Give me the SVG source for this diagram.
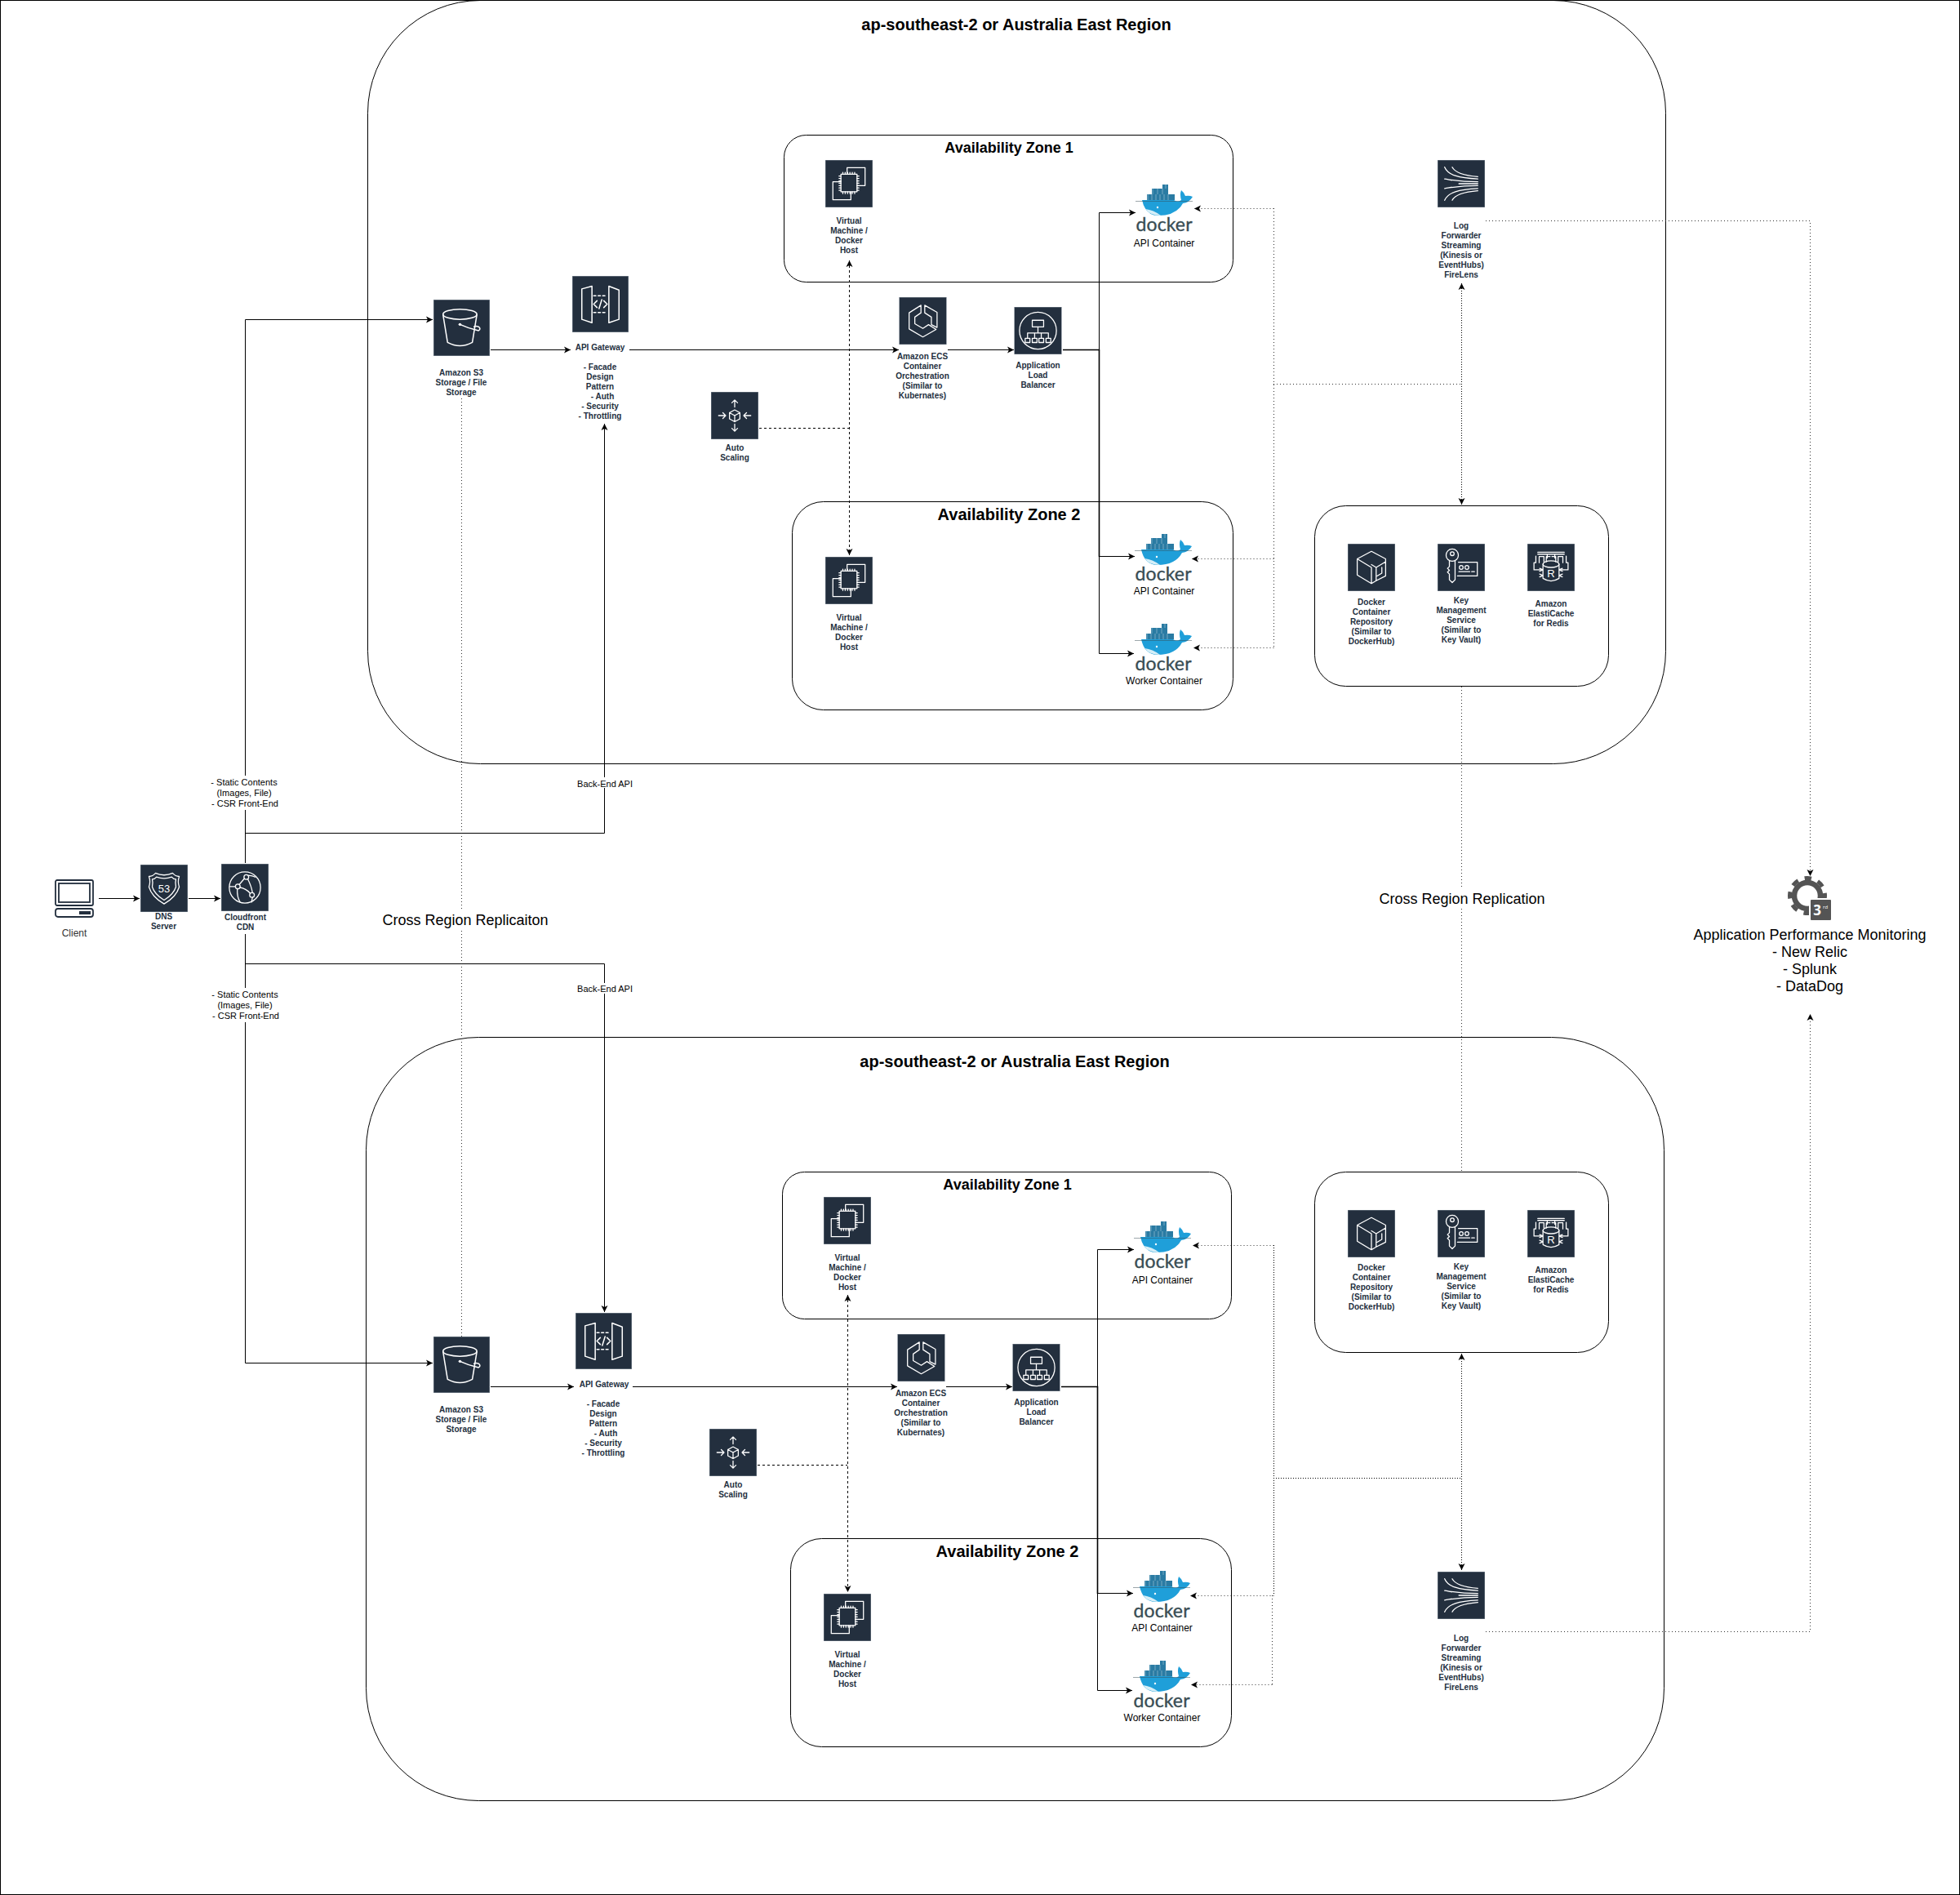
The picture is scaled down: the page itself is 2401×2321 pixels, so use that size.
<svg xmlns="http://www.w3.org/2000/svg" width="2401" height="2321" viewBox="0 0 2401 2321">
<style>
text{font-family:"Liberation Sans",Arial,sans-serif}
.lb{font-size:10px;font-weight:700;fill:#232F3E;text-anchor:middle}
.ct{font-size:12px;fill:#000;text-anchor:middle}
.el{font-size:11px;fill:#000;text-anchor:middle}
.big{font-size:18px;fill:#000;text-anchor:middle}
.rt{font-size:20px;font-weight:700;fill:#000;text-anchor:middle}
.az1{font-size:18px;font-weight:700;fill:#000;text-anchor:middle}
.az2{font-size:20px;font-weight:700;fill:#000;text-anchor:middle}
.dk{font-family:Lato,"Liberation Sans",sans-serif;font-size:23px;fill:#394D54;stroke:#394D54;stroke-width:.35;text-anchor:middle}
.box{fill:none;stroke:#000;stroke-width:1}
.c{fill:none;stroke:#000;stroke-width:1}
.th{fill:none;stroke:#000;stroke-width:1.6}
.ca{fill:none;stroke:#000;stroke-width:1;marker-end:url(#ah)}
.da{fill:none;stroke:#000;stroke-width:1;stroke-dasharray:3 3;marker-start:url(#ahs);marker-end:url(#ah)}
.dn{fill:none;stroke:#000;stroke-width:1;stroke-dasharray:3 3}
.dt{fill:none;stroke:#333;stroke-width:1;stroke-dasharray:1 3}
.dd{fill:none;stroke:#000;stroke-width:1;stroke-dasharray:1 2}
.dta{fill:none;stroke:#333;stroke-width:1;stroke-dasharray:1 3;marker-end:url(#ah)}
.db{fill:none;stroke:#000;stroke-width:1;stroke-dasharray:1 2;marker-start:url(#ahs);marker-end:url(#ah)}
.wl{fill:none;stroke:#fff;stroke-width:2.200;stroke-linejoin:round;stroke-linecap:round}
.wt{fill:#fff;text-anchor:middle}
</style>
<defs>
<marker id="ah" markerUnits="userSpaceOnUse" markerWidth="10" markerHeight="10" refX="8" refY="4.5" orient="auto"><path d="M8,4.5 L0,0.5 L2,4.5 L0,8.5 Z" fill="#000"/></marker>
<marker id="ahs" markerUnits="userSpaceOnUse" markerWidth="10" markerHeight="10" refX="0" refY="4.5" orient="auto"><path d="M0,4.5 L8,0.5 L6,4.5 L8,8.5 Z" fill="#000"/></marker>
<rect id="ibg" width="100" height="100" fill="#232F3E" stroke="#7f8a96" stroke-width="1.6"/>
<symbol id="i-vm" viewBox="0 0 100 100"><use href="#ibg"/><path class="wl" d="M46,28 V16 H84 V54 H67 M33,46 H16 V84 H54 V68"/><rect class="wl" x="33" y="30" width="34" height="37"/><path class="wl" stroke-width="1.4" d="M37,30v-4M42,30v-4M47,30v-4M52,30v-4M57,30v-4M62,30v-4M37,67v4M42,67v4M47,67v4M52,67v4M57,67v4M62,67v4M33,34h-4M33,39h-4M33,44h-4M33,49h-4M33,54h-4M33,59h-4M33,64h-4M67,34h4M67,39h4M67,44h4M67,49h4M67,54h4M67,59h4M67,64h4"/></symbol>
<symbol id="i-s3" viewBox="0 0 100 100"><use href="#ibg"/><ellipse class="wl" cx="47" cy="26" rx="30" ry="9"/><path class="wl" d="M17,27 L25,76 Q47,88 69,76 L77,27"/><path class="wl" d="M47,44 Q62,51 80,55 Q85,52 80,48 Q75,46 72,48"/><circle cx="47" cy="44" r="2.5" fill="#fff"/></symbol>
<symbol id="i-api" viewBox="0 0 100 100"><use href="#ibg"/><path class="wl" d="M35,18 L17,23 V77 L35,83 Z M65,18 L83,25 V77 L65,83 Z"/><path class="wl" stroke-dasharray="4 4" d="M38,35 H62 M38,65 H62"/><path class="wl" d="M44,44 L38,50 L44,56 M56,44 L62,50 L56,56 M52.500,42 L47.500,58"/></symbol>
<symbol id="i-as" viewBox="0 0 100 100"><use href="#ibg"/><path class="wl" d="M50,38 L61,44 V57 L50,63 L39,57 V44 Z M39,44 L50,50 L61,44 M50,50 V63"/><path class="wl" d="M50,32 V17 M44,23 L50,17 L56,23 M50,68 V83 M44,77 L50,83 L56,77 M31,50 H16 M25,44 L31,50 L25,56 M69,50 H84 M75,44 L69,50 L75,56"/></symbol>
<symbol id="i-ecs" viewBox="0 0 100 100"><use href="#ibg"/><path class="wl" d="M46,17 L21,33 V67 L50,84 L78,68 L62,58 L50,66 L33,56 V42 L46,33 Z M54,17 L80,32 V64 L68,58 V42 L54,33 Z"/></symbol>
<symbol id="i-alb" viewBox="0 0 100 100"><use href="#ibg"/><circle class="wl" cx="50" cy="50" r="39"/><rect class="wl" x="38" y="28" width="24" height="14"/><path class="wl" d="M50,42 V55 M28,66 V55 H72 V66 M43,55 V66 M57,55 V66"/><rect class="wl" x="23" y="66" width="10" height="9"/><rect class="wl" x="38" y="66" width="10" height="9"/><rect class="wl" x="52" y="66" width="10" height="9"/><rect class="wl" x="67" y="66" width="10" height="9"/></symbol>
<symbol id="i-r53" viewBox="0 0 100 100"><use href="#ibg"/><path class="wl" d="M32,18 Q26,25 18,25 Q22,36 18,47 Q24,68 50,83 Q76,68 82,47 Q78,36 82,25 Q74,25 68,18 Q50,26 32,18Z"/><path class="wl" d="M34,26 Q30,31 25,31 Q27,38 25,47 Q30,63 50,75 Q70,63 75,47 Q73,38 75,31 Q70,31 66,26 Q50,32 34,26Z"/></symbol>
<symbol id="i-cdn" viewBox="0 0 100 100"><use href="#ibg"/><circle class="wl" cx="50" cy="50" r="33"/><circle class="wl" cx="53" cy="28" r="5"/><circle class="wl" cx="35" cy="48" r="5"/><circle class="wl" cx="65" cy="66" r="5"/><path class="wl" d="M49,31 L38,44 M40,50 Q52,52 61,62 M30,48 H18 M34,53 Q33,70 40,81 M56,32 Q64,48 66,61 M57,25 Q64,24 72,28 M66,71 L64,81"/></symbol>
<symbol id="i-kin" viewBox="0 0 100 100"><use href="#ibg"/><path class="wl" stroke-width="1.700" d="M15,15 C22,32 45,38 85,40 M31,15 C38,28 60,33 85,35 M15,40 C30,42 45,46 85,46 M15,60 C30,58 45,54 85,54 M45,50 H85 M15,85 C22,68 45,62 85,60 M31,85 C38,72 60,67 85,65"/></symbol>
<symbol id="i-ecr" viewBox="0 0 100 100"><use href="#ibg"/><path class="wl" d="M50,16 L20,32 V66 L50,84 L60,78 V50 L80,38 V32 Z M20,32 L50,50 V84 M60,50 L50,44 M60,78 L80,68 V38 M72,50 V62 L62,68"/></symbol>
<symbol id="i-kms" viewBox="0 0 100 100"><use href="#ibg"/><circle class="wl" cx="31" cy="24" r="13"/><circle class="wl" cx="31" cy="21" r="4"/><path class="wl" d="M25,36 V48 L21,52 L25,56 L21,60 L25,64 V76 L31,82 L37,76 V36 M44,39 H84 V68 H42"/><circle class="wl" cx="50" cy="50" r="4" stroke-width="1.500"/><circle class="wl" cx="62" cy="50" r="4" stroke-width="1.500"/><path class="wl" d="M45,59 H68 M72,59 H78"/></symbol>
<symbol id="i-ec" viewBox="0 0 100 100"><use href="#ibg"/><path class="wl" stroke-width="1.600" d="M22,18 H78 M22,22 H78 M18,26 V40 H14 V55 H30 M82,26 V40 H86 V55 H70 M25,40 V27 H35 V38 M42,30 V22 M58,30 V22 M40,38 V27 H48 M52,27 H60 V38 M65,38 V27 H75 V40"/><ellipse class="wl" cx="50" cy="43" rx="17" ry="7"/><path class="wl" d="M33,43 V73 Q50,84 67,73 V43 M26,52 L33,55 L26,58 M26,64 L33,67 L26,70 M74,52 L67,55 L74,58 M74,64 L67,67 L74,70"/></symbol>
<symbol id="i-pc" viewBox="0 0 48 47"><g fill="none" stroke="#232F3E" stroke-width="1.800"><rect x="1" y="1" width="46" height="31" rx="2"/><rect x="5" y="5" width="38" height="23"/><rect x="1" y="36" width="46" height="10" rx="3"/></g><rect x="30" y="39" width="14" height="4" fill="#232F3E"/></symbol>
<symbol id="i-dk" viewBox="0 0 70 40"><path d="M33,0h7v5h-7z M20,5h20v7H20z M14,12h34v7H14z" fill="#2A7BA3"/><path d="M15,12v7M20,12v7M25,12v7M30,12v7M35,12v7M40,12v7M21,5v7M27,5v7M33,5v7M37,0v5" stroke="#fff" stroke-width=".6" opacity=".6"/><path d="M8,19 H47 Q52,22 56,19 Q54,12 56,7 Q60,10 61,14 Q66,13 70,15 Q66,22 58,23 Q50,38 28,38 Q12,38 8,19Z" fill="#1F9FD9"/><path d="M12,30 Q22,31 31,38 Q18,38 12,30Z" fill="#D5EEF7"/><circle cx="27" cy="28" r="1.200" fill="#fff"/><path d="M0,20.500 H70" stroke="#394D54" stroke-width=".7" opacity=".7"/></symbol>
</defs>
<rect x="0.500" y="0.500" width="2400" height="2320" fill="#fff" stroke="#000"/>

<g id="regions">
<rect id="region-a" class="box" x="450.500" y="0.500" width="1590" height="935" rx="138"/>
<text class="rt" x="1245" y="37">ap-southeast-2 or Australia East Region</text>
<rect id="region-b" class="box" x="448.500" y="1270.500" width="1590" height="935" rx="138"/>
<text class="rt" x="1243" y="1307">ap-southeast-2 or Australia East Region</text>
</g>

<g id="connectors">
<path class="dt" d="M565.500,488 V1637"/>
<path class="dt" d="M1790.500,841 V1435"/>
<path class="ca" d="M121,1100.500 H171"/>
<path class="ca" d="M231,1100.500 H270"/>
<path class="ca" d="M300.500,1057 V391.500 H530"/>
<path class="ca" d="M300.500,1020.500 H740.500 V519"/>
<path class="ca" d="M300.500,1144 V1669.500 H530"/>
<path class="ca" d="M300.500,1180.500 H740.500 V1607"/>
<path class="ca" d="M601,428.500 H699"/>
<path class="ca" d="M771,428.500 H1101"/>
<path class="ca" d="M1161,428.500 H1242"/>
<path class="th" d="M1302,428.500 H1346.500 V682"/>
<path class="ca" d="M1346.500,428 V260.500 H1391"/>
<path class="ca" d="M1346.500,428 V681.500 H1390"/>
<path class="ca" d="M1346.500,428 V800.500 H1389"/>
<path class="da" d="M1040.500,319 V680"/>
<path class="dn" d="M930,524.500 H1040"/>
<path class="dta" d="M1560.500,255.500 H1463"/>
<path class="dta" d="M1560.500,684.500 H1460"/>
<path class="dta" d="M1560.500,793.500 H1462"/>
<path class="dt" d="M1560.500,255 V794"/>
<path class="dt" d="M1560,470.500 H1790"/>
<path class="db" d="M1790.500,347 V618"/>
<path class="dta" d="M1820,270.500 H2217.500 V1073"/>
<path class="ca" d="M601,1698.500 H703"/>
<path class="ca" d="M775,1698.500 H1099"/>
<path class="ca" d="M1159,1698.500 H1240"/>
<path class="th" d="M1300,1698.500 H1344.500 V1952"/>
<path class="ca" d="M1344.500,1698 V1530.500 H1389"/>
<path class="ca" d="M1344.500,1698 V1951.500 H1388"/>
<path class="ca" d="M1344.500,1698 V2070.500 H1387"/>
<path class="da" d="M1038.500,1586 V1950"/>
<path class="dn" d="M928,1794.500 H1038"/>
<path class="dta" d="M1560.500,1525.500 H1461"/>
<path class="dta" d="M1560.500,1954.500 H1458"/>
<path class="dta" d="M1558.500,2063.500 H1459"/>
<path class="dd" d="M1560.500,1525 V1954"/>
<path class="dt" d="M1558.500,1954 V2064"/>
<path class="dd" d="M1560,1810.500 H1790" stroke-dasharray="1 1"/>
<path class="db" d="M1790.500,1658 V1923"/>
<path class="dta" d="M1820,1998.500 H2217.500 V1242"/>
<rect x="255" y="950" width="92" height="42" fill="#fff"/>
<text class="el" x="299" y="962">- Static Contents</text><text class="el" x="299" y="975">(Images, File)</text><text class="el" x="300" y="988">- CSR Front-End</text>
<rect x="255" y="1210" width="92" height="42" fill="#fff"/>
<text class="el" x="300" y="1222">- Static Contents</text><text class="el" x="300" y="1235">(Images, File)</text><text class="el" x="301" y="1248">- CSR Front-End</text>
<rect x="706" y="952" width="70" height="13" fill="#fff"/>
<text class="el" x="741" y="964">Back-End API</text>
<rect x="706" y="1204" width="70" height="13" fill="#fff"/>
<text class="el" x="741" y="1215">Back-End API</text>
<rect x="466" y="1115" width="208" height="24" fill="#fff"/>
<text class="big" x="570" y="1133">Cross Region Replicaiton</text>
<rect x="1688" y="1089" width="206" height="24" fill="#fff"/>
<text class="big" x="1791" y="1107">Cross Region Replication</text>
</g>

<g id="zones">
<g id="az1-a"><rect class="box" x="960.500" y="165.500" width="550" height="180" rx="27"/><text class="az1" x="1236" y="187">Availability Zone 1</text></g>
<g id="az2-a"><rect class="box" x="970.500" y="614.500" width="540" height="255" rx="38"/><text class="az2" x="1236" y="637">Availability Zone 2</text></g>
<g id="svc-a"><rect class="box" x="1610.500" y="619.500" width="360" height="221" rx="38"/></g>
<g id="az1-b"><rect class="box" x="958.500" y="1435.500" width="550" height="180" rx="27"/><text class="az1" x="1234" y="1457">Availability Zone 1</text></g>
<g id="az2-b"><rect class="box" x="968.500" y="1884.500" width="540" height="255" rx="38"/><text class="az2" x="1234" y="1907">Availability Zone 2</text></g>
<g id="svc-b"><rect class="box" x="1610.500" y="1435.500" width="360" height="221" rx="38"/></g>
</g>

<g id="client"><use href="#i-pc" x="67" y="1077" width="48" height="47"/><text class="ct" x="91" y="1147" style="fill:#333">Client</text></g>
<g id="dns"><use href="#i-r53" x="172" y="1059" width="58" height="58"/><text x="201" y="1093" class="wt" font-size="13">53</text><text class="lb"><tspan x="200.500" y="1126">DNS</tspan><tspan x="200.500" y="1138">Server</tspan></text></g>
<g id="cdn"><use href="#i-cdn" x="271" y="1058" width="58" height="58"/><text class="lb"><tspan x="300.500" y="1127">Cloudfront</tspan><tspan x="300.500" y="1139">CDN</tspan></text></g>
<g id="apm"><circle cx="2214" cy="1097" r="16" fill="none" stroke="#545454" stroke-width="6.500"/><circle cx="2214" cy="1097" r="21.500" fill="none" stroke="#545454" stroke-width="5" stroke-dasharray="8.500 8.370" stroke-dashoffset="4"/><rect x="2217" y="1101" width="27" height="27" rx="2" fill="#545454" stroke="#fff" stroke-width="2"/><text x="2226" y="1121" class="wt" font-size="17" font-weight="700" style="font-family:'Open Sans',sans-serif">3</text><text x="2236" y="1113" class="wt" font-size="6" style="font-family:'Open Sans',sans-serif">rd</text><text class="big"><tspan x="2217" y="1151">Application Performance Monitoring</tspan><tspan x="2217" y="1172">- New Relic</tspan><tspan x="2217" y="1193">- Splunk</tspan><tspan x="2217" y="1214">- DataDog</tspan></text></g>

<g id="s3-a"><use href="#i-s3" x="531" y="367" width="69" height="69"/><text class="lb"><tspan x="565" y="460">Amazon S3</tspan><tspan x="565" y="472">Storage / File</tspan><tspan x="565" y="484">Storage</tspan></text></g>
<g id="api-a"><use href="#i-api" x="701" y="338" width="69" height="69"/><text class="lb"><tspan x="735" y="429">API Gateway</tspan><tspan x="735" y="453">- Facade</tspan><tspan x="735" y="465">Design</tspan><tspan x="735" y="477">Pattern</tspan><tspan x="738" y="489">- Auth</tspan><tspan x="735" y="501">- Security</tspan><tspan x="735" y="513">- Throttling</tspan></text></g>
<g id="as-a"><use href="#i-as" x="871" y="480" width="58" height="58"/><text class="lb"><tspan x="900" y="552">Auto</tspan><tspan x="900" y="564">Scaling</tspan></text></g>
<g id="ecs-a"><use href="#i-ecs" x="1101.500" y="364" width="58" height="58"/><text class="lb"><tspan x="1130" y="440">Amazon ECS</tspan><tspan x="1130" y="452">Container</tspan><tspan x="1130" y="464">Orchestration</tspan><tspan x="1130" y="476">(Similar to</tspan><tspan x="1130" y="488">Kubernates)</tspan></text></g>
<g id="alb-a"><use href="#i-alb" x="1242.500" y="376" width="58" height="58"/><text class="lb"><tspan x="1271.500" y="451">Application</tspan><tspan x="1271.500" y="463">Load</tspan><tspan x="1271.500" y="475">Balancer</tspan></text></g>
<g id="vm1-a"><use href="#i-vm" x="1011" y="196" width="58" height="58"/><text class="lb"><tspan x="1040" y="274">Virtual</tspan><tspan x="1040" y="286">Machine /</tspan><tspan x="1040" y="298">Docker</tspan><tspan x="1040" y="310">Host</tspan></text></g>
<g id="vm2-a"><use href="#i-vm" x="1011" y="682" width="58" height="58"/><text class="lb"><tspan x="1040" y="760">Virtual</tspan><tspan x="1040" y="772">Machine /</tspan><tspan x="1040" y="784">Docker</tspan><tspan x="1040" y="796">Host</tspan></text></g>
<g id="dk1-a"><use href="#i-dk" x="1391" y="226" width="70" height="40"/><text class="dk" x="1426" y="283" textLength="69">docker</text><text class="ct" x="1426" y="302">API Container</text></g>
<g id="dk2-a"><use href="#i-dk" x="1390" y="654" width="70" height="40"/><text class="dk" x="1425" y="711" textLength="69">docker</text><text class="ct" x="1426" y="728">API Container</text></g>
<g id="dk3-a"><use href="#i-dk" x="1390" y="764" width="70" height="40"/><text class="dk" x="1425" y="821" textLength="69">docker</text><text class="ct" x="1426" y="838">Worker Container</text></g>
<g id="log-a"><use href="#i-kin" x="1761" y="196" width="58" height="58"/><text class="lb"><tspan x="1790" y="280">Log</tspan><tspan x="1790" y="292">Forwarder</tspan><tspan x="1790" y="304">Streaming</tspan><tspan x="1790" y="316">(Kinesis or</tspan><tspan x="1790" y="328">EventHubs)</tspan><tspan x="1790" y="340">FireLens</tspan></text></g>
<g id="ecr-a"><use href="#i-ecr" x="1651" y="666" width="58" height="58"/><text class="lb"><tspan x="1680" y="741">Docker</tspan><tspan x="1680" y="753">Container</tspan><tspan x="1680" y="765">Repository</tspan><tspan x="1680" y="777">(Similar to</tspan><tspan x="1680" y="789">DockerHub)</tspan></text></g>
<g id="kms-a"><use href="#i-kms" x="1761" y="666" width="58" height="58"/><text class="lb"><tspan x="1790" y="739">Key</tspan><tspan x="1790" y="751">Management</tspan><tspan x="1790" y="763">Service</tspan><tspan x="1790" y="775">(Similar to</tspan><tspan x="1790" y="787">Key Vault)</tspan></text></g>
<g id="ec-a"><use href="#i-ec" x="1871" y="666" width="58" height="58"/><text x="1900" y="707" class="wt" font-size="13">R</text><text class="lb"><tspan x="1900" y="743">Amazon</tspan><tspan x="1900" y="755">ElastiCache</tspan><tspan x="1900" y="767">for Redis</tspan></text></g>

<g id="s3-b"><use href="#i-s3" x="531" y="1637" width="69" height="69"/><text class="lb"><tspan x="565" y="1730">Amazon S3</tspan><tspan x="565" y="1742">Storage / File</tspan><tspan x="565" y="1754">Storage</tspan></text></g>
<g id="api-b"><use href="#i-api" x="705" y="1608" width="69" height="69"/><text class="lb"><tspan x="740" y="1699">API Gateway</tspan><tspan x="739" y="1723">- Facade</tspan><tspan x="739" y="1735">Design</tspan><tspan x="739" y="1747">Pattern</tspan><tspan x="742" y="1759">- Auth</tspan><tspan x="739" y="1771">- Security</tspan><tspan x="739" y="1783">- Throttling</tspan></text></g>
<g id="as-b"><use href="#i-as" x="869" y="1750" width="58" height="58"/><text class="lb"><tspan x="898" y="1822">Auto</tspan><tspan x="898" y="1834">Scaling</tspan></text></g>
<g id="ecs-b"><use href="#i-ecs" x="1099.500" y="1634" width="58" height="58"/><text class="lb"><tspan x="1128" y="1710">Amazon ECS</tspan><tspan x="1128" y="1722">Container</tspan><tspan x="1128" y="1734">Orchestration</tspan><tspan x="1128" y="1746">(Similar to</tspan><tspan x="1128" y="1758">Kubernates)</tspan></text></g>
<g id="alb-b"><use href="#i-alb" x="1240.500" y="1646" width="58" height="58"/><text class="lb"><tspan x="1269.500" y="1721">Application</tspan><tspan x="1269.500" y="1733">Load</tspan><tspan x="1269.500" y="1745">Balancer</tspan></text></g>
<g id="vm1-b"><use href="#i-vm" x="1009" y="1466" width="58" height="58"/><text class="lb"><tspan x="1038" y="1544">Virtual</tspan><tspan x="1038" y="1556">Machine /</tspan><tspan x="1038" y="1568">Docker</tspan><tspan x="1038" y="1580">Host</tspan></text></g>
<g id="vm2-b"><use href="#i-vm" x="1009" y="1952" width="58" height="58"/><text class="lb"><tspan x="1038" y="2030">Virtual</tspan><tspan x="1038" y="2042">Machine /</tspan><tspan x="1038" y="2054">Docker</tspan><tspan x="1038" y="2066">Host</tspan></text></g>
<g id="dk1-b"><use href="#i-dk" x="1389" y="1496" width="70" height="40"/><text class="dk" x="1424" y="1553" textLength="69">docker</text><text class="ct" x="1424" y="1572">API Container</text></g>
<g id="dk2-b"><use href="#i-dk" x="1388" y="1924" width="70" height="40"/><text class="dk" x="1423" y="1981" textLength="69">docker</text><text class="ct" x="1423.500" y="1998">API Container</text></g>
<g id="dk3-b"><use href="#i-dk" x="1388" y="2034" width="70" height="40"/><text class="dk" x="1423" y="2091" textLength="69">docker</text><text class="ct" x="1423.500" y="2108">Worker Container</text></g>
<g id="log-b"><use href="#i-kin" x="1761" y="1925" width="58" height="58"/><text class="lb"><tspan x="1790" y="2009.500">Log</tspan><tspan x="1790" y="2021.500">Forwarder</tspan><tspan x="1790" y="2033.500">Streaming</tspan><tspan x="1790" y="2045.500">(Kinesis or</tspan><tspan x="1790" y="2057.500">EventHubs)</tspan><tspan x="1790" y="2069.500">FireLens</tspan></text></g>
<g id="ecr-b"><use href="#i-ecr" x="1651" y="1482" width="58" height="58"/><text class="lb"><tspan x="1680" y="1556">Docker</tspan><tspan x="1680" y="1568">Container</tspan><tspan x="1680" y="1580">Repository</tspan><tspan x="1680" y="1592">(Similar to</tspan><tspan x="1680" y="1604">DockerHub)</tspan></text></g>
<g id="kms-b"><use href="#i-kms" x="1761" y="1482" width="58" height="58"/><text class="lb"><tspan x="1790" y="1555">Key</tspan><tspan x="1790" y="1567">Management</tspan><tspan x="1790" y="1579">Service</tspan><tspan x="1790" y="1591">(Similar to</tspan><tspan x="1790" y="1603">Key Vault)</tspan></text></g>
<g id="ec-b"><use href="#i-ec" x="1871" y="1482" width="58" height="58"/><text x="1900" y="1523" class="wt" font-size="13">R</text><text class="lb"><tspan x="1900" y="1559">Amazon</tspan><tspan x="1900" y="1571">ElastiCache</tspan><tspan x="1900" y="1583">for Redis</tspan></text></g>
</svg>
